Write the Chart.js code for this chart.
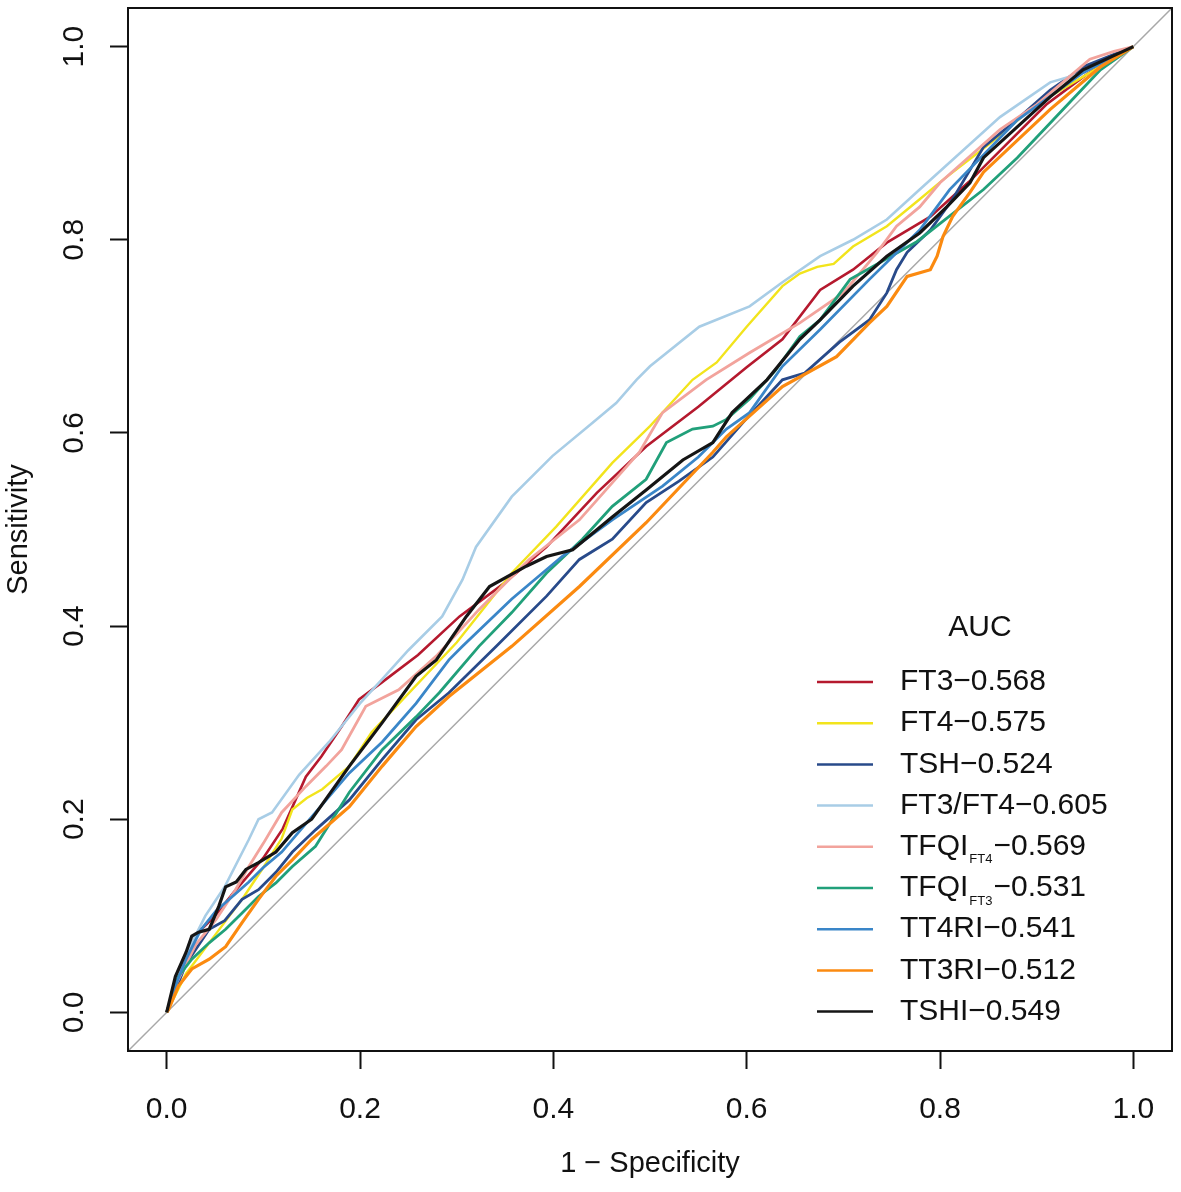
<!DOCTYPE html>
<html>
<head>
<meta charset="utf-8">
<script src="https://cdn.jsdelivr.net/npm/chart.js@4.4.1/dist/chart.umd.min.js"></script>
<style>
  html, body { margin: 0; padding: 0; background: #fff; }
  #wrap { width: 1181px; height: 1192px; position: relative; }
</style>
</head>
<body>
<div id="wrap"><canvas id="roc"></canvas></div>
<script>
'use strict';

// axis range (R style, 4% extension) and tick labels
const axisMin = -0.04;
const axisMax = 1.04;
const tickVals = [0, 0.2, 0.4, 0.6, 0.8, 1.0];

const names = ['FT3', 'FT4', 'TSH', 'FT3/FT4', 'TFQI', 'TFQI', 'TT4RI', 'TT3RI', 'TSHI'];
const subs = ['', '', '', '', 'FT4', 'FT3', '', '', ''];
const aucs = ['0.568', '0.575', '0.524', '0.605', '0.569', '0.531', '0.541', '0.512', '0.549'];
const colors = ['#b5192e', '#f2e41c', '#284a8a', '#a8cde6', '#f2a39c', '#21a07a', '#3a86c8', '#fb8a10', '#151515'];

// 1 - specificity (x) and sensitivity (y) for each curve
const ft3X = [0, .01, .02, .03, .05, .07, .1, .12, .144, .16, .181, .199, .223, .26, .303, .35, .393, .445, .496, .55, .6, .637, .676, .71, .745, .79, .83, .87, .91, .95, .98, 1];
const ft3Y = [0, .03, .055, .08, .1, .125, .16, .19, .244, .265, .296, .324, .342, .37, .41, .445, .482, .538, .586, .627, .668, .697, .748, .769, .797, .824, .86, .9, .94, .97, .99, 1];

const ft4X = [0, .02, .05, .08, .1, .119, .13, .145, .161, .189, .212, .25, .3, .357, .403, .461, .5, .544, .569, .6, .637, .655, .673, .69, .71, .745, .779, .803, .852, .9, .95, 1];
const ft4Y = [0, .04, .08, .12, .15, .18, .21, .222, .231, .255, .29, .33, .383, .455, .503, .569, .607, .655, .673, .71, .752, .765, .772, .775, .793, .814, .842, .862, .90, .94, .97, 1];

const tshX = [0, .01, .02, .044, .06, .078, .095, .113, .13, .154, .189, .223, .258, .292, .341, .393, .427, .461, .496, .53, .565, .6, .637, .66, .696, .727, .745, .755, .766, .79, .813, .845, .88, .914, .95, 1];
const tshY = [0, .025, .05, .086, .095, .117, .127, .145, .166, .189, .22, .262, .303, .331, .379, .431, .469, .49, .528, .55, .575, .615, .655, .662, .694, .717, .745, .769, .787, .81, .842, .896, .925, .955, .98, 1];

const ratioX = [0, .01, .02, .04, .06, .085, .095, .109, .137, .168, .2, .223, .25, .285, .306, .32, .357, .399, .44, .465, .486, .5, .551, .603, .637, .676, .71, .745, .779, .862, .914, .948, .98, 1];
const ratioY = [0, .03, .06, .1, .13, .179, .2, .207, .246, .28, .32, .345, .375, .41, .448, .482, .534, .576, .61, .631, .655, .669, .71, .731, .756, .783, .80, .821, .852, .927, .963, .973, .99, 1];

const tfqi4X = [0, .01, .03, .051, .07, .085, .1, .119, .144, .165, .181, .206, .24, .28, .323, .375, .427, .489, .513, .558, .603, .655, .7, .735, .755, .779, .8, .862, .9, .955, .98, 1];
const tfqi4Y = [0, .03, .07, .096, .125, .151, .175, .207, .234, .255, .272, .317, .334, .37, .417, .469, .51, .58, .621, .655, .683, .714, .745, .787, .814, .834, .859, .914, .94, .987, .995, 1];

const tfqi3X = [0, .012, .026, .044, .061, .078, .095, .113, .13, .154, .189, .223, .258, .282, .323, .357, .393, .43, .461, .496, .517, .544, .565, .579, .603, .63, .655, .676, .707, .776, .845, .88, .914, .966, 1];
const tfqi3Y = [0, .037, .055, .072, .086, .103, .12, .134, .151, .172, .228, .272, .306, .331, .379, .414, .455, .49, .524, .552, .59, .604, .607, .614, .635, .665, .70, .717, .759, .798, .852, .885, .921, .976, 1];

const tt4X = [0, .01, .02, .035, .051, .085, .1, .119, .154, .189, .223, .258, .292, .306, .357, .409, .461, .513, .55, .579, .603, .637, .676, .727, .779, .81, .88, .948, 1];
const tt4Y = [0, .03, .055, .085, .105, .135, .15, .166, .207, .248, .28, .32, .365, .379, .428, .472, .51, .545, .575, .604, .621, .669, .707, .759, .81, .852, .924, .973, 1];

const tt3X = [0, .002, .012, .026, .044, .061, .078, .095, .113, .13, .15, .189, .223, .258, .292, .357, .427, .496, .565, .579, .637, .693, .727, .745, .766, .79, .797, .803, .813, .831, .845, .914, .966, 1];
const tt3Y = [0, .003, .027, .045, .055, .068, .093, .117, .141, .158, .179, .213, .255, .296, .327, .379, .441, .507, .58, .596, .648, .679, .714, .731, .762, .769, .783, .803, .824, .849, .87, .935, .979, 1];

const tshiX = [0, .009, .02, .026, .033, .044, .054, .061, .072, .082, .095, .113, .13, .15, .189, .223, .258, .279, .31, .334, .372, .393, .42, .461, .496, .534, .565, .585, .621, .655, .676, .71, .745, .779, .807, .831, .845, .914, .948, 1];
const tshiY = [0, .037, .062, .079, .083, .086, .11, .13, .135, .148, .155, .166, .186, .2, .255, .30, .348, .365, .41, .441, .462, .472, .479, .513, .541, .572, .59, .621, .655, .697, .717, .752, .783, .807, .834, .859, .885, .948, .976, 1];

const curveX = [ft3X, ft4X, tshX, ratioX, tfqi4X, tfqi3X, tt4X, tt3X, tshiX];
const curveY = [ft3Y, ft4Y, tshY, ratioY, tfqi4Y, tfqi3Y, tt4Y, tt3Y, tshiY];
const widths = [2.6, 2.4, 2.8, 2.6, 2.8, 2.8, 2.8, 3.2, 3.2];

const FONT = '"Liberation Sans", Arial, sans-serif';

const datasets = curveX.map(function(xs, i) {
  return {
    label: names[i],
    data: xs.map(function(v, j) { return {x: v, y: curveY[i][j]}; }),
    showLine: true,
    borderColor: colors[i],
    backgroundColor: colors[i],
    borderWidth: widths[i],
    pointRadius: 0,
    tension: 0,
    order: 9 - i
  };
});

// chance line
datasets.push({
  label: 'ref',
  data: [{x: axisMin, y: axisMin}, {x: axisMax, y: axisMax}],
  showLine: true,
  borderColor: '#a8a8a8',
  borderWidth: 1.5,
  pointRadius: 0,
  order: 20
});

const framePlugin = {
  id: 'frame',
  afterDraw: function(chart) {
    const ctx = chart.ctx;
    const a = chart.chartArea;
    ctx.save();
    ctx.strokeStyle = '#111';
    ctx.lineWidth = 2;
    ctx.strokeRect(a.left, a.top, a.right - a.left, a.bottom - a.top);
    ctx.restore();
  }
};

const legendPlugin = {
  id: 'aucLegend',
  afterDraw: function(chart) {
    const ctx = chart.ctx;
    const a = chart.chartArea;
    const x0 = a.right - 355;
    const y0 = a.top + 674;
    const rowH = 41.2;
    ctx.save();
    ctx.fillStyle = '#111';
    ctx.textBaseline = 'middle';
    ctx.font = '30px ' + FONT;
    ctx.textAlign = 'center';
    ctx.fillText('AUC', a.right - 192, a.top + 620);
    ctx.textAlign = 'left';
    for (let i = 0; i < names.length; i++) {
      const y = y0 + i * rowH;
      ctx.strokeStyle = colors[i];
      ctx.lineWidth = 2.5;
      ctx.beginPath();
      ctx.moveTo(x0, y);
      ctx.lineTo(x0 + 56, y);
      ctx.stroke();
      let tx = x0 + 83;
      ctx.font = '30px ' + FONT;
      ctx.fillText(names[i], tx, y);
      tx += ctx.measureText(names[i]).width;
      if (subs[i]) {
        ctx.font = '13px ' + FONT;
        ctx.fillText(subs[i], tx + 1, y + 13);
        tx += ctx.measureText(subs[i]).width + 2;
        ctx.font = '30px ' + FONT;
      }
      ctx.fillText('\u2212' + aucs[i], tx, y);
    }
    ctx.restore();
  }
};

new Chart(document.getElementById('roc'), {
  type: 'scatter',
  data: { datasets: datasets },
  options: {
    responsive: true,
    maintainAspectRatio: false,
    animation: false,
    layout: { padding: { top: 8, right: 9, left: 0, bottom: 0 } },
    plugins: {
      legend: { display: false },
      tooltip: { enabled: false }
    },
    scales: {
      x: {
        type: 'linear',
        min: axisMin,
        max: axisMax,
        afterBuildTicks: function(s) { s.ticks = tickVals.map(function(v) { return {value: v}; }); },
        afterFit: function(s) { s.height = 141; s.paddingLeft = 0; s.paddingRight = 0; },
        grid: { display: true, drawOnChartArea: false, drawTicks: true, tickLength: 18, tickWidth: 2, tickColor: '#111' },
        border: { display: false },
        ticks: {
          color: '#111',
          padding: 23,
          maxRotation: 0,
          font: { family: FONT, size: 30 },
          callback: function(v) { return v.toFixed(1); }
        },
        title: {
          display: true,
          text: '1 \u2212 Specificity',
          color: '#111',
          font: { family: FONT, size: 29 },
          padding: { top: 11, bottom: 11 }
        }
      },
      y: {
        type: 'linear',
        min: axisMin,
        max: axisMax,
        afterBuildTicks: function(s) { s.ticks = tickVals.map(function(v) { return {value: v}; }); },
        afterFit: function(s) { s.width = 128; s.paddingTop = 0; s.paddingBottom = 0; },
        grid: { display: true, drawOnChartArea: false, drawTicks: true, tickLength: 18, tickWidth: 2, tickColor: '#111' },
        border: { display: false },
        ticks: {
          color: '#111',
          padding: 14,
          minRotation: 90,
          maxRotation: 90,
          crossAlign: 'center',
          font: { family: FONT, size: 30 },
          callback: function(v) { return v.toFixed(1); }
        },
        title: {
          display: true,
          text: 'Sensitivity',
          color: '#111',
          font: { family: FONT, size: 29 },
          padding: { top: 2, bottom: 2 }
        }
      }
    }
  },
  plugins: [framePlugin, legendPlugin]
});
</script>
</body>
</html>
